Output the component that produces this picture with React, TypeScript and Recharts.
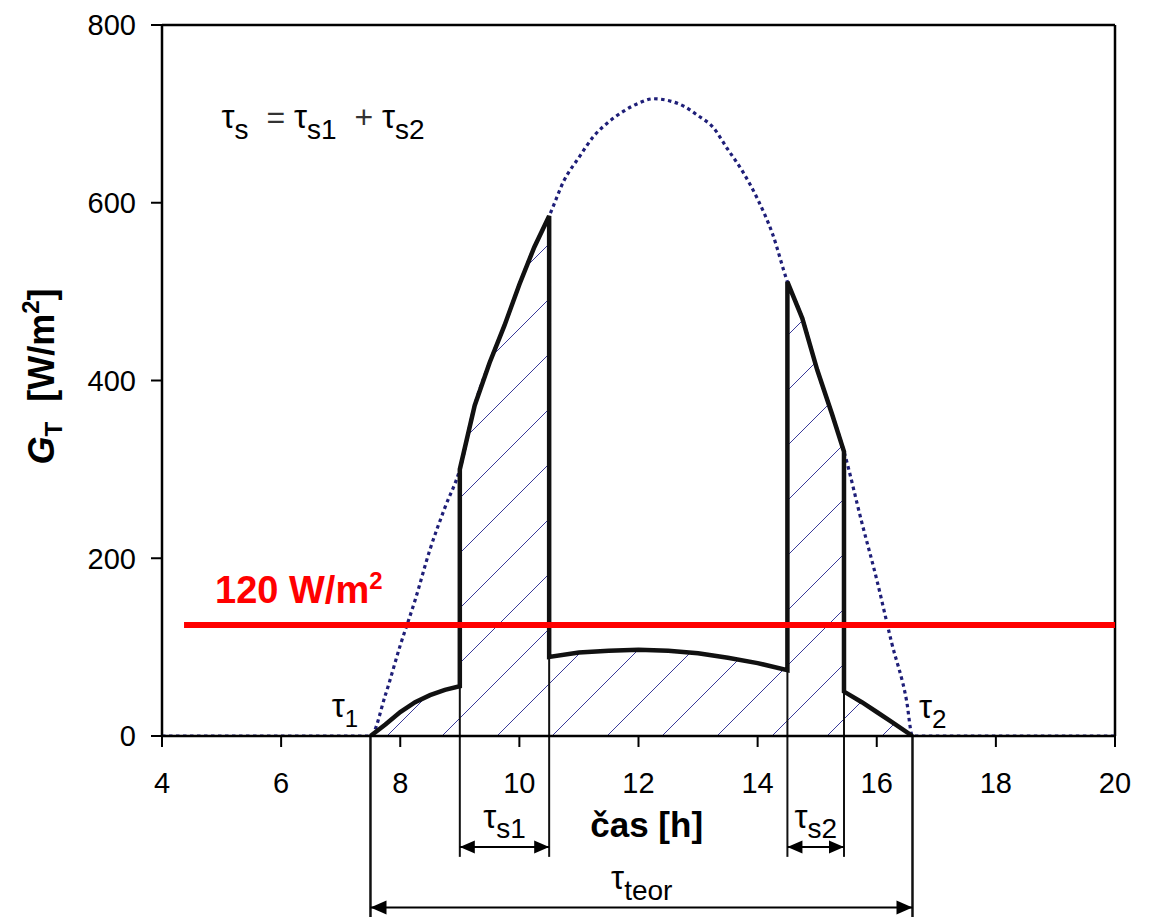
import React from 'react';
import { ComposedChart, Line, Area, XAxis, YAxis, ReferenceLine, ReferenceDot } from 'recharts';

const FONT = "'Liberation Sans', Arial, sans-serif";
const W = 1149;
const H = 917;

// axes
const xTicks = [4, 6, 8, 10, 12, 14, 16, 18, 20];
const yTicks = [0, 200, 400, 600, 800];

// clear-sky irradiance (dotted)
const clearTimes = [4, 7.5, 7.75, 8.0, 8.25, 8.5, 8.75, 9.0, 9.25, 9.5, 9.75, 10.0, 10.25, 10.5, 10.75, 11.0, 11.25, 11.5, 11.75, 12.0, 12.25, 12.5, 12.75, 13.0, 13.25, 13.5, 13.75, 14.0, 14.25, 14.5, 14.75, 15.0, 15.25, 15.45, 15.75, 16.0, 16.25, 16.5, 16.6, 20];
const clearValues = [0, 0, 46, 102, 153, 210, 257, 300, 372, 420, 462, 508, 550, 585, 625, 651, 675, 691, 703, 712, 717, 715, 709, 698, 685, 660, 635, 604, 565, 511, 470, 412, 362, 320, 240, 176, 105, 40, 0, 0];

// actual irradiance outline (thick black)
const outlineTimes = [7.5, 7.75, 8.0, 8.25, 8.5, 8.75, 9.0, 9.0, 9.25, 9.5, 9.75, 10.0, 10.25, 10.5, 10.5, 11.0, 11.5, 12.0, 12.5, 13.0, 13.5, 14.0, 14.5, 14.5, 14.75, 15.0, 15.25, 15.45, 15.45, 15.75, 16.0, 16.25, 16.6];
const outlineValues = [0, 13, 27, 38, 46, 52, 56, 300, 372, 420, 462, 508, 550, 585, 89, 94, 96, 97, 96, 93, 88, 82, 74, 511, 470, 412, 362, 320, 50, 38, 27, 16, 0];

// threshold
const thresholdValue = 125;
const thresholdStart = 4.37;

// time marks
const tauStart = 7.5;
const tauEnd = 16.6;
const sunTimes = [9.0, 10.5, 14.5, 15.45];
const sunDiffuse = [56, 89, 74, 50];

// annotation levels (below axis, in W/m2 units of the y scale)
const sunLineEnd = -136;
const sunArrowLevel = -125;
const teorLineEnd = -206;
const teorArrowLevel = -193;

const clearData = clearTimes.map((t, i) => ({ t, g: clearValues[i] }));
const outlineData = outlineTimes.map((t, i) => ({ t, g: outlineValues[i] }));

type Part = { s: string; size: number; dy?: number; bold?: boolean; italic?: boolean; weight?: number; fill?: string };

function note(key: string, x: number, y: number, parts: Part[], anchor: string = 'start', color: string = '#000') {
  return (
    <ReferenceDot
      key={key}
      x={x}
      y={y}
      r={0}
      ifOverflow="visible"
      shape={(p: any) => (
        <text x={p.cx} y={p.cy} textAnchor={anchor} fill={color} fontFamily={FONT} style={{ whiteSpace: 'pre' }}>
          {parts.map((pt, i) => (
            <tspan
              key={i}
              fontSize={pt.size}
              dy={pt.dy ?? 0}
              fill={pt.fill ?? color}
              fontWeight={pt.bold ? 'bold' : pt.weight ?? 'normal'}
              fontStyle={pt.italic ? 'italic' : 'normal'}
            >
              {pt.s}
            </tspan>
          ))}
        </text>
      )}
    />
  );
}

const arrowShape = (head: number, half: number) => (p: any) => {
  const { x1, y1, x2, y2 } = p;
  const a = Math.min(x1, x2);
  const b = Math.max(x1, x2);
  return (
    <g>
      <line x1={a} y1={y1} x2={b} y2={y2} stroke="#000" strokeWidth={2} />
      <polygon points={`${a},${y1} ${a + head},${y1 - half} ${a + head},${y1 + half}`} fill="#000" />
      <polygon points={`${b},${y2} ${b - head},${y2 - half} ${b - head},${y2 + half}`} fill="#000" />
    </g>
  );
};

const yLabel = (props: any) => {
  const vb = props.viewBox || { x: 0, y: 25, width: 162, height: 711 };
  const cx = vb.x + 54;
  const cy = vb.y + vb.height / 2 - 4;
  return (
    <text
      x={cx}
      y={cy}
      transform={`rotate(-90, ${cx}, ${cy})`}
      textAnchor="middle"
      fontFamily={FONT}
      fontWeight="bold"
      fill="#000"
      style={{ whiteSpace: 'pre' }}
    >
      <tspan fontSize={36} fontStyle="italic">G</tspan>
      <tspan fontSize={24} dy={8}>T</tspan>
      <tspan fontSize={36} dy={-8}>{'  [W/m'}</tspan>
      <tspan fontSize={24} dy={-15}>2</tspan>
      <tspan fontSize={36} dy={15}>]</tspan>
    </text>
  );
};

export default function App() {
  const tickStyle = { fontSize: 29, fill: '#000', fontFamily: FONT };
  return (
    <div style={{ position: 'absolute', left: 0, top: 0, width: W, height: H, background: '#fff' }}>
      <ComposedChart width={W} height={H} margin={{ top: 25, right: 34, bottom: 121, left: 0 }}>
        <defs>
          <pattern id="hatch" patternUnits="userSpaceOnUse" width="55" height="55" x="23" y="0">
            <path d="M0,55 L55,0 M-5,5 L5,-5 M50,60 L60,50" stroke="#3a3a9a" strokeWidth="1" />
          </pattern>
        </defs>
        <XAxis
          type="number"
          dataKey="t"
          domain={[4, 20]}
          ticks={xTicks}
          interval={0}
          height={60}
          tickSize={11}
          tickMargin={25}
          tick={tickStyle}
          axisLine={{ stroke: '#000', strokeWidth: 2.5 }}
          tickLine={{ stroke: '#000', strokeWidth: 2 }}
          allowDataOverflow
        />
        <YAxis
          type="number"
          domain={[0, 800]}
          ticks={yTicks}
          interval={0}
          width={162}
          tickSize={11}
          tickMargin={15}
          tick={tickStyle}
          axisLine={{ stroke: '#000', strokeWidth: 2.5 }}
          tickLine={{ stroke: '#000', strokeWidth: 2 }}
          label={{ content: yLabel }}
          allowDataOverflow
        />
        <ReferenceLine y={800} stroke="#000" strokeWidth={2.5} ifOverflow="visible" />
        <ReferenceLine x={20} stroke="#000" strokeWidth={2.5} ifOverflow="visible" />

        <Area
          data={outlineData}
          dataKey="g"
          type="linear"
          stroke="none"
          fill="url(#hatch)"
          fillOpacity={1}
          isAnimationActive={false}
          dot={false}
          activeDot={false}
        />
        <Line
          data={clearData}
          dataKey="g"
          type="monotone"
          stroke="#1e1e78"
          strokeWidth={3.2}
          strokeDasharray="3.5 3.5"
          dot={false}
          activeDot={false}
          isAnimationActive={false}
        />
        <Line
          data={outlineData}
          dataKey="g"
          type="linear"
          stroke="#111"
          strokeWidth={4.5}
          dot={false}
          activeDot={false}
          isAnimationActive={false}
        />

        {sunTimes.map((t, i) => (
          <ReferenceLine
            key={`sv${i}`}
            segment={[{ x: t, y: sunDiffuse[i] }, { x: t, y: sunLineEnd }]}
            stroke="#111"
            strokeWidth={2}
            ifOverflow="visible"
          />
        ))}
        {[tauStart, tauEnd].map((t, i) => (
          <ReferenceLine
            key={`tv${i}`}
            segment={[{ x: t, y: 0 }, { x: t, y: teorLineEnd }]}
            stroke="#111"
            strokeWidth={2.5}
            ifOverflow="visible"
          />
        ))}

        <ReferenceLine
          segment={[{ x: thresholdStart, y: thresholdValue }, { x: 20, y: thresholdValue }]}
          stroke="#ff0000"
          strokeWidth={6}
          ifOverflow="visible"
        />

        <ReferenceLine
          segment={[{ x: sunTimes[0], y: sunArrowLevel }, { x: sunTimes[1], y: sunArrowLevel }]}
          ifOverflow="visible"
          shape={arrowShape(15, 6.5)}
        />
        <ReferenceLine
          segment={[{ x: sunTimes[2], y: sunArrowLevel }, { x: sunTimes[3], y: sunArrowLevel }]}
          ifOverflow="visible"
          shape={arrowShape(15, 6.5)}
        />
        <ReferenceLine
          segment={[{ x: tauStart, y: teorArrowLevel }, { x: tauEnd, y: teorArrowLevel }]}
          ifOverflow="visible"
          shape={arrowShape(16, 7)}
        />

        {note('t1', 6.85, 21, [{ s: 'τ', size: 33 }, { s: '1', size: 24, dy: 10 }])}
        {note('t2', 16.71, 20, [{ s: 'τ', size: 33 }, { s: '2', size: 26, dy: 10 }])}
        {note('ts1', 9.75, -103.5, [{ s: 'τ', size: 33 }, { s: 's1', size: 28, dy: 10 }], 'middle')}
        {note('ts2', 14.975, -103.5, [{ s: 'τ', size: 33 }, { s: 's2', size: 28, dy: 10 }], 'middle')}
        {note('tteor', 11.54, -172, [{ s: 'τ', size: 33 }, { s: 'teor', size: 28, dy: 11 }])}
        {note('formula', 5.0, 684, [
          { s: 'τ', size: 33 },
          { s: 's', size: 28, dy: 11 },
          { s: '  = ', size: 32, dy: -11, weight: 300, fill: '#333' },
          { s: 'τ', size: 33 },
          { s: 's1', size: 28, dy: 11 },
          { s: '  + ', size: 32, dy: -11, weight: 300, fill: '#333' },
          { s: 'τ', size: 33 },
          { s: 's2', size: 28, dy: 11 },
        ])}
        {note('thr', 4.89, 149.6, [
          { s: '120 W/m', size: 38, bold: true },
          { s: '2', size: 24, dy: -14, bold: true },
        ], 'start', '#ff0000')}
        {note('xlab', 11.19, -113.6, [{ s: 'čas [h]', size: 35, bold: true }])}
      </ComposedChart>
    </div>
  );
}
